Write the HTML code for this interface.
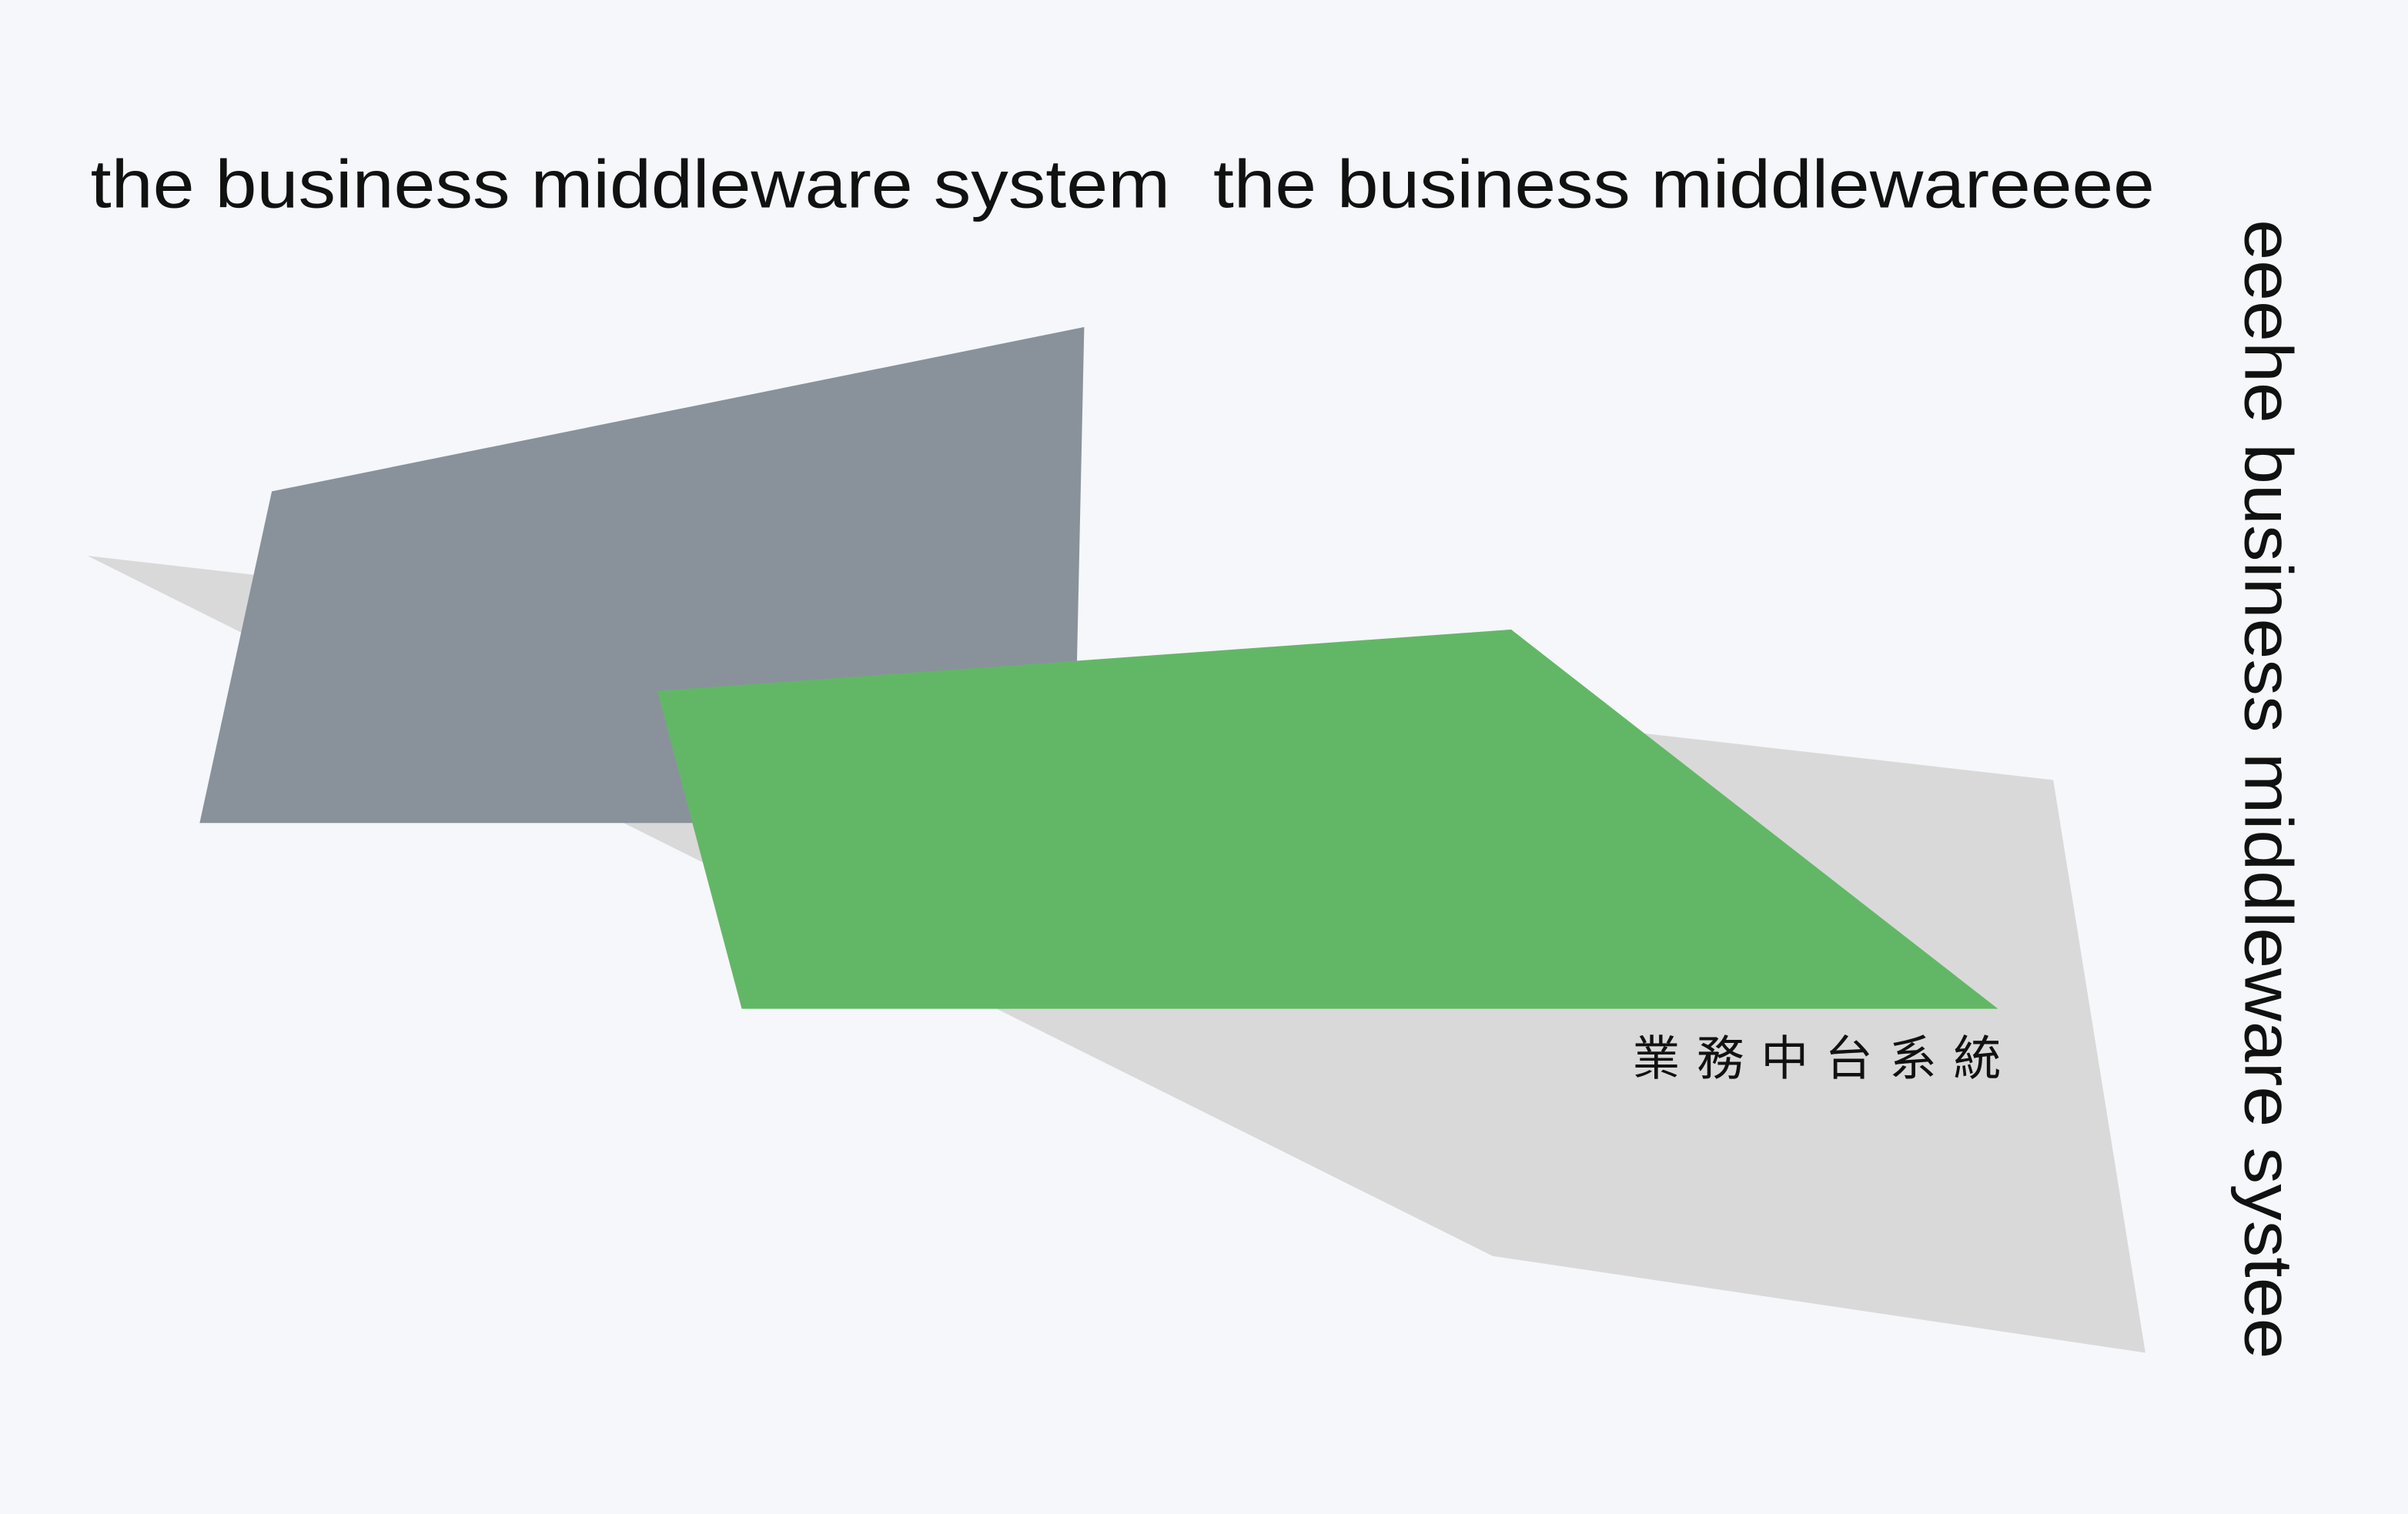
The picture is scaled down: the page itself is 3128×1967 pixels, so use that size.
<!DOCTYPE html>
<html><head><meta charset="utf-8"><style>
html,body{margin:0;padding:0;background:#f5f7fa;}
svg{display:block;}
</style></head><body>
<svg width="3128" height="1967" viewBox="0 0 1568 986" xmlns="http://www.w3.org/2000/svg" preserveAspectRatio="none">
<rect width="1568" height="986" fill="#f5f7fa"/>
<polygon points="57,362 1337,508 1397,881 972,818" fill="#d9d9d9"/>
<polygon points="177,320 706,213 699,536 130,536" fill="#89929b"/>
<polygon points="428,450 984,410 1301,657 483,657" fill="#62b766"/>
<g font-family="'Liberation Sans', sans-serif" font-size="44" fill="#111">
<text x="59" y="135" textLength="703" lengthAdjust="spacingAndGlyphs">the business middleware system</text>
<text x="790" y="135" textLength="613" lengthAdjust="spacingAndGlyphs">the business middlewareeee</text>
<text transform="translate(1462,143) rotate(90)" x="0" y="0" textLength="742" lengthAdjust="spacingAndGlyphs">eeehe business middleware systee</text>
</g>
<text x="1063" y="700" font-family="'Liberation Sans','Noto Sans CJK TC',sans-serif" font-size="31" fill="#111" textLength="240" lengthAdjust="spacing">業務中台系統</text>
</svg>
</body></html>
